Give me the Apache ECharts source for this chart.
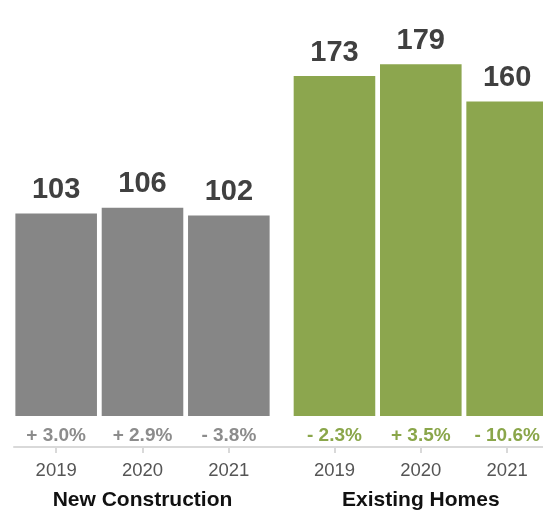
<!DOCTYPE html>
<html>
<head>
<meta charset="utf-8">
<script src="https://cdn.jsdelivr.net/npm/echarts@6/dist/echarts.min.js"></script>
<style>
  html, body { margin: 0; padding: 0; background: #fff; overflow: hidden; }
  #chart { width: 543px; height: 513px; }
</style>
</head>
<body>
<div id="chart"></div>
<script>
// Home counts by year, split by construction type
const years = ['2019', '2020', '2021'];
const groups = ['New Construction', 'Existing Homes'];
const newConstruction = [103, 106, 102];
const existingHomes = [173, 179, 160];
const newConstructionChange = ['+ 3.0%', '+ 2.9%', '- 3.8%'];
const existingHomesChange = ['- 2.3%', '+ 3.5%', '- 10.6%'];

const FONT = '"Liberation Sans", Arial, Helvetica, sans-serif';
const GRAY = '#868686';
const GREEN = '#8ca64e';
const LINE = '#d9d9d9';

const chart = echarts.init(document.getElementById('chart'), null, { renderer: 'canvas' });

// fixed plot boxes; the second one runs past the right edge so its last bar is cut off
const grids = [
  { left: 13, width: 259, top: 23, bottom: 97, outerBoundsMode: 'none' },
  { left: 291.3, width: 259, top: 23, bottom: 97, outerBoundsMode: 'none' },
  // full-width strip carrying the shared baseline
  { left: 14, right: 0, top: 23, bottom: 97, outerBoundsMode: 'none' }
];

function changeAxis(gridIndex, labels, color) {
  return {
    type: 'category', gridIndex, data: labels, position: 'bottom',
    axisLine: { show: false, onZero: false }, axisTick: { show: false },
    axisLabel: { margin: 10, color, fontFamily: FONT, fontSize: 19, fontWeight: 'bold' }
  };
}

function yearAxis(gridIndex, name) {
  return {
    type: 'category', gridIndex, data: years, position: 'bottom', offset: 31,
    axisLine: { show: false, onZero: false },
    axisTick: { show: true, alignWithLabel: true, length: 6, lineStyle: { color: LINE, width: 2 } },
    axisLabel: { margin: 14, color: '#555', fontFamily: FONT, fontSize: 18.5 },
    name, nameLocation: 'middle', nameGap: 43,
    nameTextStyle: { color: '#111', fontFamily: FONT, fontSize: 21, fontWeight: 'bold' }
  };
}

function barSeries(idx, values, color) {
  return {
    type: 'bar', xAxisIndex: idx, yAxisIndex: idx, data: values,
    barCategoryGap: '5.5%',
    itemStyle: { color },
    label: {
      show: true, position: 'top', distance: 9,
      color: '#404040', fontFamily: FONT, fontSize: 29, fontWeight: 'bold'
    },
    silent: true
  };
}

const yAxisBase = {
  type: 'value', min: 0, max: 200, show: false, splitLine: { show: false }
};

chart.setOption({
  animation: false,
  backgroundColor: '#fff',
  grid: grids,
  xAxis: [
    changeAxis(0, newConstructionChange, '#8c8c8c'),
    changeAxis(1, existingHomesChange, '#8aa64a'),
    {
      type: 'value', gridIndex: 2, min: 0, max: 1, position: 'bottom', offset: 31,
      axisLine: { show: true, onZero: false, lineStyle: { color: LINE, width: 2 } },
      axisTick: { show: false }, axisLabel: { show: false }, splitLine: { show: false }
    },
    yearAxis(0, groups[0]),
    yearAxis(1, groups[1])
  ],
  yAxis: [
    Object.assign({ gridIndex: 0 }, yAxisBase),
    Object.assign({ gridIndex: 1 }, yAxisBase),
    Object.assign({ gridIndex: 2 }, yAxisBase)
  ],
  series: [
    barSeries(0, newConstruction, GRAY),
    barSeries(1, existingHomes, GREEN)
  ]
});
</script>
</body>
</html>
